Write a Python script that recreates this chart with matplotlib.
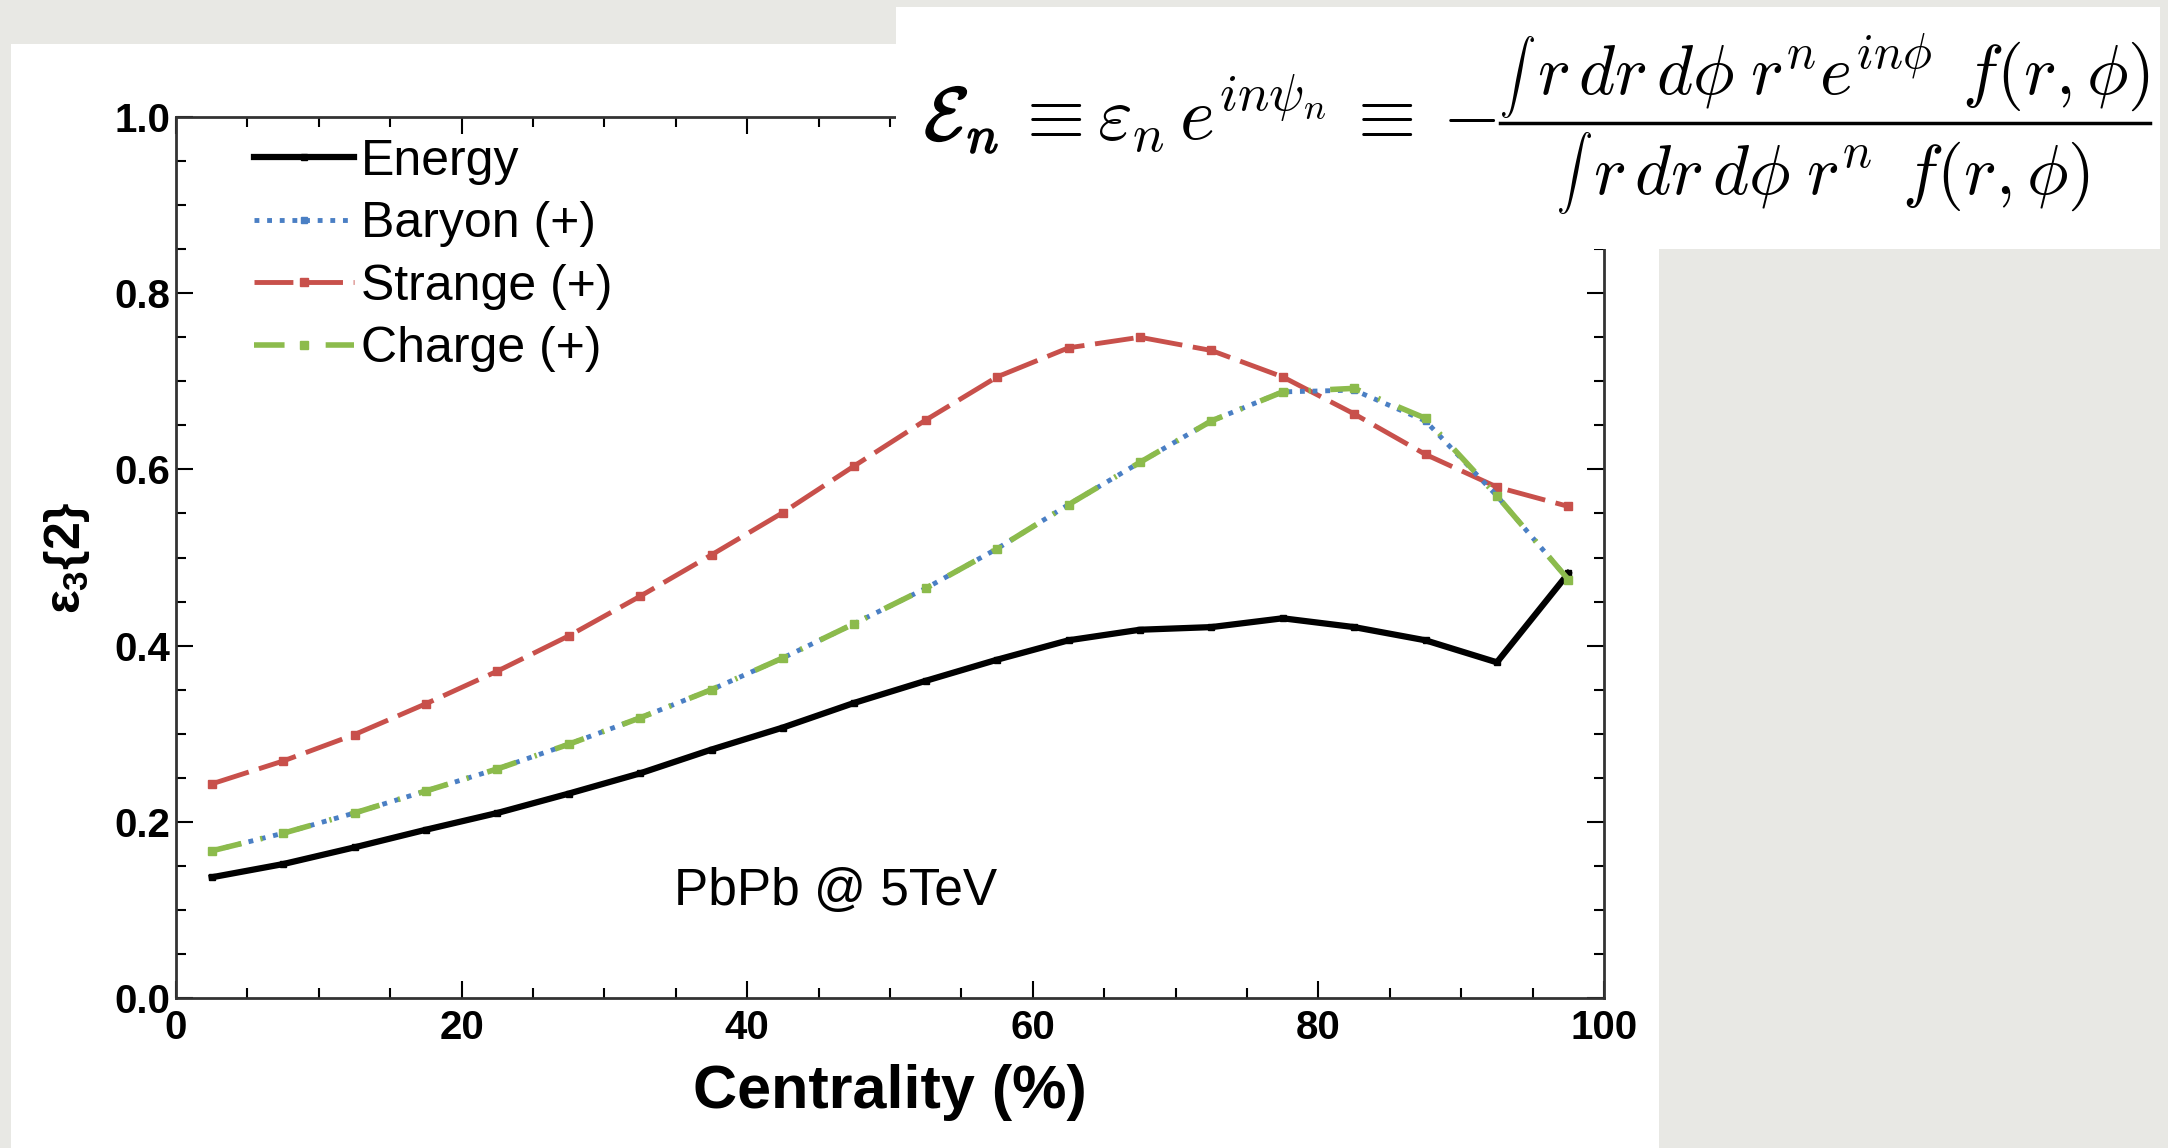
import matplotlib
matplotlib.use("Agg")
import matplotlib.pyplot as plt
import matplotlib.patheffects as pe
from matplotlib.patches import Rectangle
from matplotlib.lines import Line2D

# centrality bins (%) and eccentricity values
centrality = [2.5, 7.5, 12.5, 17.5, 22.5, 27.5, 32.5, 37.5, 42.5, 47.5,
              52.5, 57.5, 62.5, 67.5, 72.5, 77.5, 82.5, 87.5, 92.5, 97.5]
energy = [0.137, 0.152, 0.171, 0.191, 0.210, 0.232, 0.255, 0.282, 0.307, 0.335,
          0.360, 0.384, 0.406, 0.418, 0.421, 0.431, 0.421, 0.406, 0.381, 0.482]
baryon = [0.167, 0.187, 0.210, 0.235, 0.260, 0.288, 0.318, 0.350, 0.386, 0.425,
          0.465, 0.510, 0.560, 0.608, 0.655, 0.688, 0.690, 0.655, 0.570, 0.475]
strange = [0.243, 0.269, 0.299, 0.334, 0.371, 0.411, 0.456, 0.503, 0.551, 0.604,
           0.656, 0.705, 0.738, 0.750, 0.735, 0.705, 0.663, 0.617, 0.580, 0.558]
charge = [0.167, 0.187, 0.210, 0.235, 0.260, 0.288, 0.318, 0.350, 0.386, 0.425,
          0.465, 0.510, 0.560, 0.608, 0.655, 0.688, 0.692, 0.658, 0.570, 0.475]

plt.rcParams['font.family'] = ['Liberation Sans', 'DejaVu Sans']
plt.rcParams['mathtext.fontset'] = 'custom'
plt.rcParams['mathtext.rm'] = 'Liberation Sans:bold'
plt.rcParams['mathtext.it'] = 'Liberation Sans:bold'
plt.rcParams['mathtext.bf'] = 'Liberation Sans:bold'

W, H = 2168, 1148
fig = plt.figure(figsize=(W / 100, H / 100), dpi=100)
fig.patch.set_facecolor('#e8e8e4')

# white slide panel behind the plot
fig.patches.append(Rectangle((11 / W, 0), (1659 - 11) / W, 1 - 44 / H,
                             transform=fig.transFigure, facecolor='white',
                             edgecolor='none', zorder=-5))
# white box with the formula, lying on top of the plot corner
fig.patches.append(Rectangle((896 / W, 1 - 249 / H), (2160 - 896) / W, (249 - 7) / H,
                             transform=fig.transFigure, facecolor='white',
                             edgecolor='none', zorder=5))

ax = fig.add_axes([176 / W, 1 - 998 / H, (1604 - 176) / W, (998 - 117) / H])
ax.set_zorder(2)
ax.set_facecolor('white')

ax.plot(centrality, energy, color='black', lw=4.5, marker='s', ms=5,
        label='Energy', zorder=3)
ax.plot(centrality, strange, color='#c8504b', lw=3.5, dashes=(8, 2.2),
        marker='s', ms=6, label='Strange (+)', zorder=3)
ax.plot(centrality, baryon, color='#4a7fc4', lw=3.5, linestyle=(0, (1, 1.6)),
        marker='s', ms=5, label='Baryon (+)', zorder=3)
ax.plot(centrality, charge, color='#8cbb4c', lw=4, dashes=(5.5, 3.5, 0.4, 3.5),
        marker='s', ms=6, label='Charge (+)', zorder=4)

ax.set_xlim(0, 100)
ax.set_ylim(0, 1.0)
ax.set_xticks([0, 20, 40, 60, 80, 100])
ax.set_xticks(range(0, 101, 5), minor=True)
ax.set_yticks([0.0, 0.2, 0.4, 0.6, 0.8, 1.0])
ax.set_yticks([i * 0.05 for i in range(21)], minor=True)
ax.set_yticklabels(['0.0', '0.2', '0.4', '0.6', '0.8', '1.0'])
ax.tick_params(which='both', direction='in', top=True, right=True, width=1.5)
ax.tick_params(which='major', length=12)
ax.tick_params(which='minor', length=7)
ax.tick_params(axis='x', pad=8)
ax.tick_params(axis='y', pad=4)
for lab in ax.get_xticklabels() + ax.get_yticklabels():
    lab.set_fontfamily(['Liberation Sans Narrow', 'Liberation Sans'])
    lab.set_fontweight('bold')
    lab.set_fontsize(29)
for s in ax.spines.values():
    s.set_linewidth(2)
    s.set_color('#333333')

ax.set_xlabel('Centrality (%)', fontsize=44, fontweight='bold', labelpad=12)
ax.set_ylabel(r'$\varepsilon_3\{2\}$', fontsize=36, labelpad=16)

h, l = ax.get_legend_handles_labels()
order = [0, 2, 1, 3]
ax.legend([h[i] for i in order], [l[i] for i in order], loc='upper left',
          bbox_to_anchor=(0.03, 1.015), frameon=False, fontsize=36,
          handlelength=2.0, handletextpad=0.15, labelspacing=0.33,
          borderaxespad=0.3)

ax.text(0.349, 0.121, 'PbPb @ 5TeV', transform=ax.transAxes, fontsize=37,
        va='center', ha='left')

# formula in the white box: left side, then numerator / bar / denominator
fkw = dict(math_fontfamily='cm', zorder=6, color='black')
fig.text(924 / W, 1 - 140 / H, r'$\mathcal{E}_n$', fontsize=54, ha='left',
         va='baseline',
         path_effects=[pe.withStroke(linewidth=1.2, foreground='black')], **fkw)
fig.text(1496 / W, 1 - 140 / H,
         r'$\equiv \varepsilon_n\, e^{in\psi_n}\, \equiv -$',
         fontsize=54, ha='right', va='baseline', **fkw)
fig.text(1499 / W, 1 - 77 / H, r'$\int$', fontsize=26, ha='left',
         va='center', **fkw)
fig.text(2150 / W, 1 - 94 / H,
         r'$r\,dr\,d\phi\; r^n e^{in\phi}\;\, f(r,\phi)$',
         fontsize=50, ha='right', va='baseline', **fkw)
fig.text(1556 / W, 1 - 173 / H, r'$\int$', fontsize=26, ha='left',
         va='center', **fkw)
fig.text(2090 / W, 1 - 194 / H,
         r'$r\,dr\,d\phi\; r^n\;\, f(r,\phi)$',
         fontsize=50, ha='right', va='baseline', **fkw)
fig.lines.append(Line2D([1500 / W, 2150 / W], [1 - 123 / H, 1 - 123 / H],
                        transform=fig.transFigure, color='black', lw=2.5,
                        zorder=6))

fig.savefig('out.png', dpi=100, facecolor=fig.get_facecolor())
